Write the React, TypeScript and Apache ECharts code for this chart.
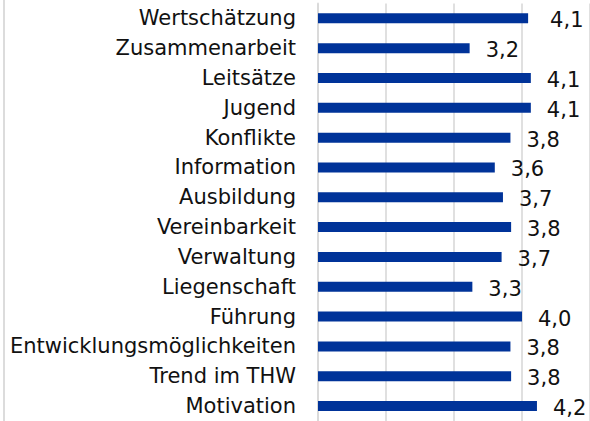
import React, { useEffect, useRef } from "react";
import * as echarts from "echarts";

const categories = [
  "Wertschätzung",
  "Zusammenarbeit",
  "Leitsätze",
  "Jugend",
  "Konflikte",
  "Information",
  "Ausbildung",
  "Vereinbarkeit",
  "Verwaltung",
  "Liegenschaft",
  "Führung",
  "Entwicklungsmöglichkeiten",
  "Trend im THW",
  "Motivation",
];

const values = [4.09, 3.23, 4.13, 4.13, 3.83, 3.6, 3.72, 3.84, 3.7, 3.27, 4.0, 3.83, 3.84, 4.22];

const axisMin = 1;
const axisMax = 5;
const axisStep = 1;

const FONT = "'DejaVu Sans', Verdana, sans-serif";

export default function App() {
  const ref = useRef<HTMLDivElement>(null);

  useEffect(() => {
    if (!ref.current) return;
    const chart = echarts.init(ref.current, undefined, { renderer: "svg" });
    chart.setOption({
      animation: false,
      backgroundColor: "#ffffff",
      grid: { left: 318, top: 3.4, width: 277, height: 418.6, containLabel: false },
      xAxis: {
        type: "value",
        min: axisMin,
        max: axisMax,
        interval: axisStep,
        axisLabel: { show: false },
        axisLine: { show: false },
        axisTick: { show: false },
        splitLine: { show: true, lineStyle: { color: "#d9d9d9", width: 1.6 } },
      },
      yAxis: {
        type: "category",
        data: categories,
        inverse: true,
        axisLine: { show: true, lineStyle: { color: "#d9d9d9", width: 1.6 } },
        axisTick: { show: false },
        axisLabel: {
          margin: 22,
          fontFamily: FONT,
          fontSize: 21,
          color: "#111111",
        },
      },
      graphic: [
        {
          type: "line",
          shape: { x1: 4, y1: 0, x2: 4, y2: 421 },
          style: { stroke: "#dcdcdc", lineWidth: 2 },
          silent: true,
        },
      ],
      series: [
        {
          type: "bar",
          data: values.map((v, i) =>
            i === 0 ? { value: v, label: { distance: 22 } } : v
          ),
          barWidth: 10,
          itemStyle: { color: "#003399" },
          label: {
            show: true,
            position: "right",
            distance: 16,
            offset: [0, 2],
            fontFamily: FONT,
            fontSize: 21,
            color: "#111111",
            formatter: (p: any) => Number(p.value).toFixed(1).replace(".", ","),
          },
        },
      ],
    });
    return () => chart.dispose();
  }, []);

  return (
    <div
      ref={ref}
      style={{ position: "absolute", left: 0, top: 0, width: 590, height: 421 }}
    />
  );
}
